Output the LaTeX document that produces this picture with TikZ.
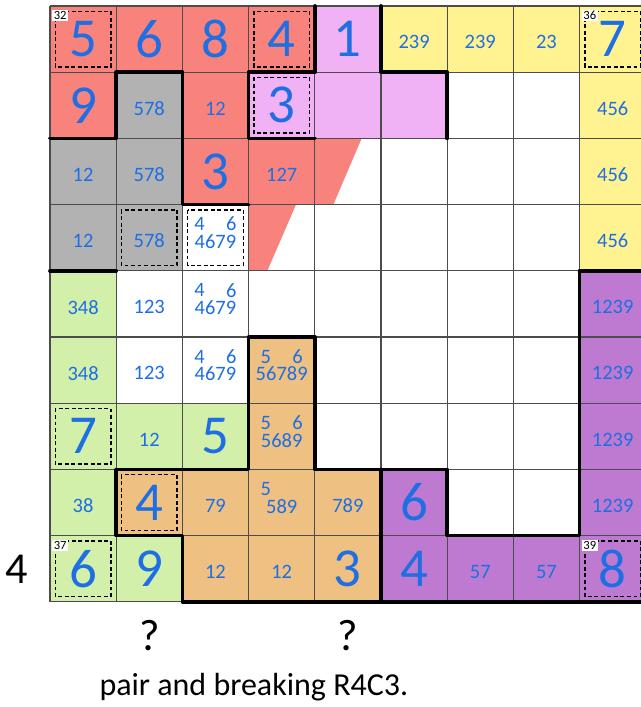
\documentclass[tikz,border=0pt]{standalone}
\usepackage{fontspec}
\setmainfont{Carlito}
\usetikzlibrary{calc}

\definecolor{cellR}{RGB}{248,131,125}
\definecolor{cellP}{RGB}{240,178,245}
\definecolor{cellY}{RGB}{255,243,145}
\definecolor{cellG}{RGB}{178,178,178}
\definecolor{cellL}{RGB}{210,240,170}
\definecolor{cellT}{RGB}{238,192,130}
\definecolor{cellV}{RGB}{190,122,208}
\definecolor{cellW}{RGB}{255,255,255}
\definecolor{digitblue}{RGB}{30,110,228}

\begin{document}
\begin{tikzpicture}[
  given/.style={text=digitblue, font=\fontsize{23.6}{24}\selectfont, inner sep=0pt},
  cand/.style={text=digitblue, font=\fontsize{8.8}{9}\selectfont, inner sep=0pt},
  cornerno/.style={fill=white, font=\fontsize{5.4}{5.5}\selectfont, inner sep=0.6pt},
  dashbox/.style={draw=black, dash pattern=on 1.7pt off 1.1pt, line width=0.55pt},
  gridline/.style={draw=black!70, line width=0.45pt},
  cageline/.style={draw=black, line width=1.6pt, line cap=round, line join=round},
  qmark/.style={font=\fontsize{19}{20}\selectfont, inner sep=0pt},
  note/.style={font=\fontsize{13.75}{16}\selectfont, inner sep=0pt}
]
\useasboundingbox[fill=white] (-0.755,0.0906) rectangle (8.927,-10.589);

% cell colours, row by row
\foreach \row [count=\r] in {
  {R,R,R,R,P,Y,Y,Y,Y},
  {R,G,R,P,P,P,W,W,Y},
  {G,G,R,R,W,W,W,W,Y},
  {G,G,W,W,W,W,W,W,Y},
  {L,W,W,W,W,W,W,W,V},
  {L,W,W,T,W,W,W,W,V},
  {L,L,L,T,W,W,W,W,V},
  {L,T,T,T,T,V,W,W,V},
  {L,L,T,T,T,V,V,V,V}}
  \foreach \col [count=\c] in \row
    \fill[cell\col] (\c-1,1-\r) rectangle (\c,-\r);

% slanted red pieces
\fill[cellR] (4,-2) -- (4.708,-2) -- (4.280,-3) -- (4,-3) -- cycle;
\fill[cellR] (3,-3) -- (3.716,-3) -- (3.283,-4) -- (3,-4) -- cycle;

% thin grid
\foreach \i in {0,...,9} {
  \draw[gridline] (\i,0) -- (\i,-9);
  \draw[gridline] (0,-\i) -- (9,-\i);
}

% dashed boxes
\foreach \r/\c in {1/1,1/4,1/9,2/4,4/2,4/3,7/1,8/2,9/1,9/9}
  \draw[dashbox] (\c-0.92,0.92-\r) rectangle (\c-0.08,0.08-\r);

% given digits
\foreach \r/\c/\d in {1/1/5,1/2/6,1/3/8,1/4/4,1/5/1,1/9/7,2/1/9,2/4/3,3/3/3,
    7/1/7,7/3/5,8/2/4,8/6/6,9/1/6,9/2/9,9/5/3,9/6/4,9/9/8}
  \node[given] (g\r\c) at (\c-0.5,0.5-\r) {\d};

% candidates
\foreach \r/\c/\d in {1/6/239,1/7/239,1/8/23,2/2/578,2/3/12,2/9/456,
    3/1/12,3/2/578,3/4/127,3/9/456,4/1/12,4/2/578,4/9/456,
    5/1/348,5/2/123,5/9/1239,6/1/348,6/2/123,6/9/1239,
    7/2/12,7/9/1239,8/1/38,8/3/79,8/5/789,8/9/1239,
    9/3/12,9/4/12,9/7/57,9/8/57}
  \node[cand] (c\r\c) at (\c-0.5,0.452-\r) {\d};

% candidates with corner marks
\foreach \r/\c/\d in {4/3/4679,5/3/4679,6/3/4679,6/4/56789,7/4/5689,8/4/589}
  \node[cand] (p\r\c) at (\c-0.5,0.44-\r) {\d};
\foreach \r/\c/\xo/\d [count=\k] in {4/3/0.26/4,4/3/0.74/6,5/3/0.26/4,5/3/0.74/6,
    6/3/0.26/4,6/3/0.74/6,6/4/0.26/5,6/4/0.74/6,7/4/0.26/5,7/4/0.74/6,8/4/0.26/5}
  \node[cand] (m\k) at (\c-1+\xo,0.705-\r) {\d};

% cage borders
\draw[cageline] (4,-2) -- (3,-2) -- (3,-1) -- (4,-1) -- (4,0);
\draw[cageline] (5,0) -- (5,-1) -- (6,-1) -- (6,-2);
\draw[cageline] (0,-2) -- (1,-2) -- (1,-1) -- (2,-1) -- (2,-3) -- (3,-3);
\draw[cageline] (0,-4) -- (1,-4);
\draw[cageline] (8,-4) -- (9,-4);
\draw[cageline] (8,-4) -- (8,-8) -- (6,-8) -- (6,-7) -- (4,-7) -- (4,-5) -- (3,-5)
  -- (3,-7) -- (1,-7) -- (1,-8) -- (2,-8) -- (2,-9) -- (9,-9);
\draw[cageline] (5,-7) -- (5,-9);

% cage sums
\foreach \r/\c/\n in {1/1/32,1/9/36,9/1/37,9/9/39}
  \node[cornerno] (k\n) at (\c-0.845,0.853-\r) {\n};

% text below and beside the grid
\node[qmark] (rowno) at (-0.503,-8.505) {4};
\node[qmark] (qa) at (1.5,-9.517) {?};
\node[qmark] (qb) at (4.5,-9.517) {?};
\node[note, anchor=base] (caption) at (3.08,-10.41) {pair and breaking R4C3.};
\end{tikzpicture}
\end{document}
